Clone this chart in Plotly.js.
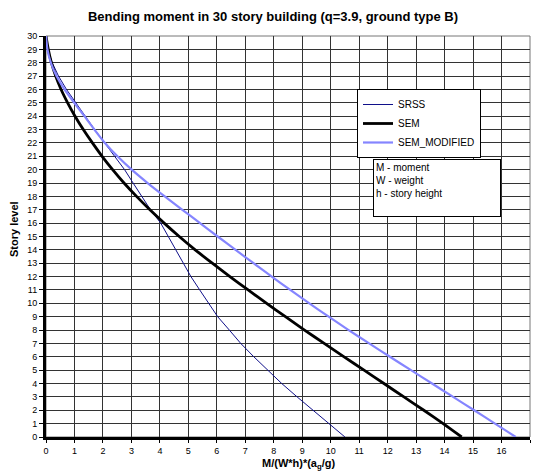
<!DOCTYPE html>
<html>
<head>
<meta charset="utf-8">
<script src="https://cdn.plot.ly/plotly-3.0.1.min.js"></script>
<style>html,body{margin:0;padding:0;background:#fff;}#chart{width:533px;height:472px;}</style>
</head>
<body>
<div id="chart"></div>
<script>
// Story levels (y) and bending moment values (x) for each series
var storyLevels = [30,29,28,27,26,25,24,23,22,21,20,19,18,17,16,15,14,13,12,11,10,9,8,7,6,5,4,3,2,1,0];
var srss = [0,0.06,0.22,0.44,0.72,1.04,1.37,1.71,2.06,2.41,2.76,3.06,3.37,3.67,4.03,4.29,4.56,4.82,5.09,5.40,5.71,6.03,6.44,6.84,7.3,7.8,8.28,8.82,9.39,9.96,10.5];
var sem = [0,0.08,0.19,0.34,0.53,0.76,1.02,1.31,1.63,1.97,2.34,2.74,3.18,3.65,4.15,4.68,5.24,5.84,6.46,7.10,7.75,8.41,9.08,9.77,10.47,11.17,11.87,12.57,13.27,13.95,14.6];
var semModified = [0,0.05,0.17,0.37,0.65,0.99,1.35,1.70,2.07,2.51,3.01,3.57,4.17,4.79,5.41,6.03,6.66,7.29,7.93,8.58,9.25,9.93,10.63,11.35,12.08,12.82,13.56,14.3,15.04,15.77,16.5];
var seriesNames = ['SRSS','SEM','SEM_MODIFIED'];
var xTicks = [0,1,2,3,4,5,6,7,8,9,10,11,12,13,14,15,16,17];
var yTicks = [0,1,2,3,4,5,6,7,8,9,10,11,12,13,14,15,16,17,18,19,20,21,22,23,24,25,26,27,28,29,30];
var titleText = 'Bending moment in 30 story building (q=3.9, ground type B)';
var xTitle = 'M/(W*h)*(a<sub>g</sub>/g)';
var yTitle = 'Story level';
var noteLines = ['M - moment','W - weight','h - story height'];

var FONT = 'Arial, "Liberation Sans", sans-serif';

var traces = [
  {x: srss, y: storyLevels, name: seriesNames[0], mode: 'lines',
   line: {color: '#10108a', width: 1, shape: 'linear'}},
  {x: sem, y: storyLevels, name: seriesNames[1], mode: 'lines',
   line: {color: '#000000', width: 2.8, shape: 'spline', smoothing: 0.6}},
  {x: semModified, y: storyLevels, name: seriesNames[2], mode: 'lines',
   line: {color: '#8585ff', width: 2.2, shape: 'spline', smoothing: 0.6}}
];

var W = 533, H = 472;
var mL = 46, mR = 3, mT = 36, mB = 35;
var pw = W - mL - mR, ph = H - mT - mB;
function px(xp){ return (xp - mL) / pw; }
function py(yp){ return (H - mB - yp) / ph; }

var layout = {
  width: W, height: H,
  margin: {l: mL, r: mR, t: mT, b: mB, pad: 0},
  paper_bgcolor: '#ffffff',
  plot_bgcolor: '#ffffff',
  font: {family: FONT, size: 9, color: '#000'},
  title: {text: '<b>' + titleText + '</b>', font: {family: FONT, size: 13, color: '#000'},
          xref: 'container', x: 273 / W, xanchor: 'center',
          yref: 'container', y: 1 - 16 / H, yanchor: 'middle'},
  showlegend: true,
  legend: {x: px(357), xanchor: 'left', y: py(89), yanchor: 'top',
           bgcolor: '#ffffff', bordercolor: '#000', borderwidth: 1,
           font: {family: FONT, size: 10, color: '#000'}, tracegroupgap: 0},
  xaxis: {range: [0, 17], tickvals: xTicks, ticktext: xTicks.map(String),
          showgrid: true, gridcolor: '#333', gridwidth: 1,
          showline: true, linecolor: '#000', linewidth: 3,
          ticks: 'outside', ticklen: 3, tickcolor: '#000', tickwidth: 1,
          zeroline: false, tickfont: {family: FONT, size: 9, color: '#000'}, fixedrange: true},
  yaxis: {range: [0, 30], tickvals: yTicks, ticktext: yTicks.map(String),
          showgrid: true, gridcolor: '#333', gridwidth: 1,
          showline: true, linecolor: '#000', linewidth: 3,
          ticks: 'outside', ticklen: 4, tickcolor: '#000', tickwidth: 1,
          zeroline: false, tickfont: {family: FONT, size: 9, color: '#000'}, fixedrange: true},
  shapes: [
    {type: 'rect', xref: 'paper', yref: 'paper', x0: 0, x1: 1, y0: 0, y1: 1,
     line: {color: '#777', width: 1}, layer: 'below'}
  ],
  annotations: [
    {text: '<b>' + xTitle + '</b>', xref: 'paper', yref: 'paper',
     x: px(298), y: py(464), xanchor: 'center', yanchor: 'middle', showarrow: false,
     font: {family: FONT, size: 11, color: '#000'}},
    {text: '<b>' + yTitle + '</b>', xref: 'paper', yref: 'paper', textangle: -90,
     x: px(14), y: py(229), xanchor: 'center', yanchor: 'middle', showarrow: false,
     font: {family: FONT, size: 11, color: '#000'}},
    {text: noteLines.join('<br>'), xref: 'paper', yref: 'paper',
     x: px(373), y: py(159), xanchor: 'left', yanchor: 'top', showarrow: false,
     align: 'left', valign: 'top', width: 122, height: 52,
     bgcolor: '#ffffff', bordercolor: '#000', borderwidth: 1, borderpad: 2,
     font: {family: FONT, size: 10, color: '#000'}}
  ]
};

Plotly.newPlot('chart', traces, layout, {staticPlot: true, displayModeBar: false});
</script>
</body>
</html>
